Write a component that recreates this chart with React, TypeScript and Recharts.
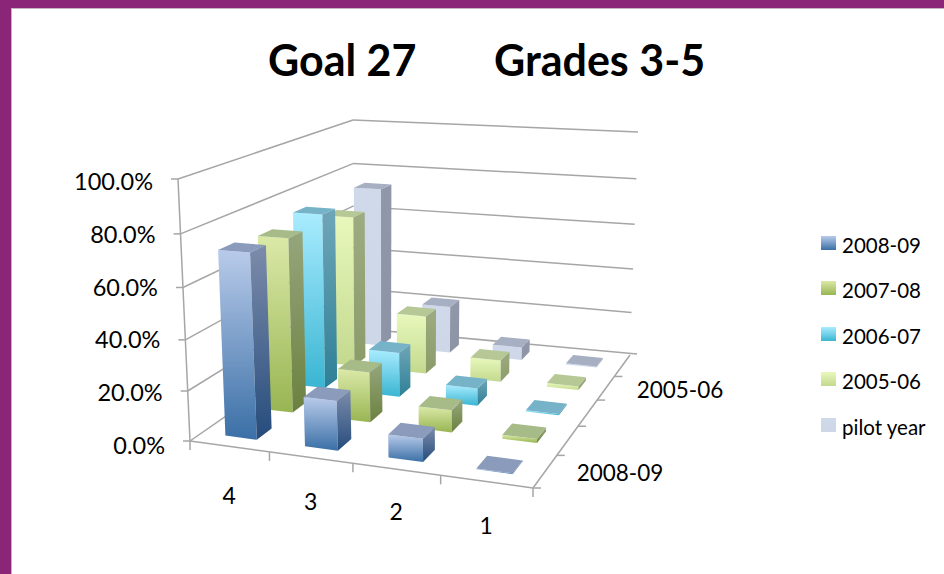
import React from "react";
import { BarChart, Bar, XAxis, YAxis, Legend } from "recharts";

const grades = ["4", "3", "2", "1"];
const seriesNames = ["2008-09", "2007-08", "2006-07", "2005-06", "pilot year"];
const depthLabels = ["2008-09", "2005-06"];
const yTicks = [0, 0.2, 0.4, 0.6, 0.8, 1];

const y200809 = [0.727, 0.195, 0.09, 0.003];
const y200708 = [0.712, 0.205, 0.09, 0.016];
const y200607 = [0.742, 0.19, 0.074, 0.005];
const y200506 = [0.667, 0.258, 0.095, 0.016];
const yPilot = [0.732, 0.216, 0.058, 0.005];
const seriesValues = [y200809, y200708, y200607, y200506, yPilot];

const data = grades.map((grade, i) => {
  const row: Record<string, string | number> = { grade };
  seriesNames.forEach((name, s) => {
    row[name] = seriesValues[s][i];
  });
  return row;
});

// front top, front bottom, side top, side bottom, lid
const palette = [
  ["#b9cbea", "#3a6fa6", "#7c8cab", "#264c7c", "#8b9bbb"],
  ["#dbe9a8", "#98b552", "#96a67c", "#6b8140", "#a6bb88"],
  ["#a9ecff", "#3ab5d2", "#6fa6b8", "#2e8096", "#76b3c9"],
  ["#e8f8bc", "#c3d98e", "#9eab82", "#8b9c68", "#b6c896"],
  ["#cfd9ea", "#cdd7e8", "#9097a8", "#8d94a5", "#a7afc3"],
];

const WIDTH = 944;
const HEIGHT = 574;
const PLOT_TOP = 182;
const PLOT_BOTTOM = 127;
const PLOT_H = HEIGHT - PLOT_TOP - PLOT_BOTTOM - 1;
const FONT = "Lato, sans-serif";
const GRID = "#a6a6a6";

type Pt = [number, number];

// unit square -> quad, corners in the order (0,0) (1,0) (1,1) (0,1)
const homography = (q: Pt[]) => {
  const [[x0, y0], [x1, y1], [x2, y2], [x3, y3]] = q;
  const dx1 = x1 - x2;
  const dx2 = x3 - x2;
  const dx3 = x0 - x1 + x2 - x3;
  const dy1 = y1 - y2;
  const dy2 = y3 - y2;
  const dy3 = y0 - y1 + y2 - y3;
  const den = dx1 * dy2 - dx2 * dy1;
  const g = (dx3 * dy2 - dx2 * dy3) / den;
  const h = (dx1 * dy3 - dx3 * dy1) / den;
  const a = x1 - x0 + g * x1;
  const b = x3 - x0 + h * x3;
  const d = y1 - y0 + g * y1;
  const e = y3 - y0 + h * y3;
  return (u: number, v: number): Pt => {
    const w = g * u + h * v + 1;
    return [(a * u + b * v + x0) / w, (d * u + e * v + y0) / w];
  };
};

const floor = homography([[190, 441], [533, 488], [630, 355], [353, 328]]);
const ceiling = homography([[178, 179], [538, 203], [638, 132], [353, 120]]);

const project = (u: number, v: number, level: number): Pt => {
  const a = floor(u, v);
  const b = ceiling(u, v);
  // the camera looks down a little, so the upper levels come out wider apart
  const t = level / (1 + 0.06 * (1 - level));
  return [a[0] + (b[0] - a[0]) * t, a[1] + (b[1] - a[1]) * t];
};

const pts = (list: Pt[]) => list.map((p) => `${p[0].toFixed(1)},${p[1].toFixed(1)}`).join(" ");

// Bar shape: takes the height the y scale gave and stands it on the floor
const makeBar = (s: number) => (props: any) => {
  const level = props.height / PLOT_H;
  const cu = (props.index + 0.5) / grades.length;
  const cv = (s + 0.5) / seriesNames.length;
  const hu = 0.2 / grades.length;
  const hv = 0.2 / seriesNames.length;
  const u0 = cu - hu;
  const u1 = cu + hu;
  const v0 = cv - hv;
  const v1 = cv + hv;
  const front = [project(u0, v0, level), project(u1, v0, level), project(u1, v0, 0), project(u0, v0, 0)];
  const side = [project(u1, v0, level), project(u1, v1, level), project(u1, v1, 0), project(u1, v0, 0)];
  const lid = [project(u0, v0, level), project(u1, v0, level), project(u1, v1, level), project(u0, v1, level)];
  return (
    <g>
      <polygon points={pts(front)} fill={`url(#front${s})`} />
      <polygon points={pts(side)} fill={`url(#side${s})`} />
      <polygon points={pts(lid)} fill={palette[s][4]} />
    </g>
  );
};

const Walls = () => {
  const line = (a: Pt, b: Pt, key: string) => (
    <line key={key} x1={a[0]} y1={a[1]} x2={b[0]} y2={b[1]} stroke={GRID} strokeWidth={1.5} />
  );
  return (
    <g>
      {yTicks.map((t) => {
        const left = project(0, 0, t);
        const corner = project(0, 1, t);
        const right = project(1, 1, t);
        return (
          <g key={t}>
            {line([left[0] - 7, left[1]], left, `a${t}`)}
            {line(left, corner, `b${t}`)}
            {line(corner, t === 0 ? [right[0] + 7, right[1] - 1] : right, `c${t}`)}
          </g>
        );
      })}
      {line(project(0, 0, 0), project(0, 0, 1), "axis")}
      {line(project(0, 0, 0), project(1, 0, 0), "front")}
      {line(project(1, 0, 0), project(1, 1, 0), "depth")}
      {[0, 1, 2, 3, 4].map((i) => {
        const p = project(i / 4, 0, 0);
        return line(p, [p[0], p[1] + 9], `ut${i}`);
      })}
      {[0, 1, 2, 3, 4].map((i) => {
        const p = project(1, i / 5, 0);
        return line(p, [p[0] + 8, p[1]], `vt${i}`);
      })}
    </g>
  );
};

const labelDy = [52, 47, 45, 47];

const GradeTick = (props: any) => {
  const i = grades.indexOf(props.payload.value);
  const p = project((i + 0.5) / grades.length, 0, 0);
  return (
    <text x={p[0]} y={p[1] + labelDy[i]} textAnchor="middle" dominantBaseline="middle" fontFamily={FONT} fontSize={23} fill="#000">
      {props.payload.value}
    </text>
  );
};

// the axis leans, so the labels follow it instead of sharing one right edge
const PercentTick = (props: any) => {
  const v = props.payload.value;
  const x = project(0, 0, v)[0] - 25;
  return (
    <text x={x} y={props.y + 2} textAnchor="end" dominantBaseline="middle" fontFamily={FONT} fontSize={23.5} fill="#000">
      {`${(v * 100).toFixed(1)}%`}
    </text>
  );
};

const LegendBox = (props: any) => {
  const items = [...(props.payload || [])].sort((a: any, b: any) => seriesNames.indexOf(a.value) - seriesNames.indexOf(b.value));
  return (
    <div style={{ fontFamily: FONT, fontSize: 20.5, color: "#000" }}>
      {items.map((item: any, s: number) => (
        <div key={item.value} style={{ display: "flex", alignItems: "center", height: 45.5 }}>
          <span
            style={{
              width: 15,
              height: 14,
              marginRight: 6,
              marginTop: -4,
              background: `linear-gradient(${palette[s][0]}, ${palette[s][1]})`,
            }}
          />
          {item.value}
        </div>
      ))}
    </div>
  );
};

export default function App() {
  return (
    <div style={{ position: "absolute", left: 0, top: 0, width: WIDTH, height: HEIGHT, background: "#8b2577", overflow: "hidden" }}>
      <div style={{ position: "absolute", left: 11, top: 8, right: 0, bottom: 0, background: "#fff", borderLeft: "1px solid #c4b2c2", borderTop: "1px solid #c4b2c2" }} />
      <div style={{ position: "absolute", left: 0, top: 0 }}>
        <BarChart
          width={WIDTH}
          height={HEIGHT}
          data={data}
          margin={{ top: PLOT_TOP, right: 304, bottom: PLOT_BOTTOM, left: 0 }}
        >
          <defs>
            {palette.map((c, s) => (
              <React.Fragment key={s}>
                <linearGradient id={`front${s}`} x1="0" y1="0" x2="0" y2="1">
                  <stop offset="0" stopColor={c[0]} />
                  <stop offset="1" stopColor={c[1]} />
                </linearGradient>
                <linearGradient id={`side${s}`} x1="0" y1="0" x2="0" y2="1">
                  <stop offset="0" stopColor={c[2]} />
                  <stop offset="1" stopColor={c[3]} />
                </linearGradient>
              </React.Fragment>
            ))}
          </defs>
          <text x={268} y={76} fontFamily={FONT} fontWeight={700} fontSize={43} fill="#000">
            Goal 27
          </text>
          <text x={494} y={76} fontFamily={FONT} fontWeight={700} fontSize={43} fill="#000">
            Grades 3-5
          </text>
          <Walls />
          <XAxis dataKey="grade" height={1} axisLine={false} tickLine={false} interval={0} tick={GradeTick} />
          <YAxis width={170} domain={[0, 1]} ticks={yTicks} axisLine={false} tickLine={false} tick={PercentTick} />
          {/* back row first so the nearer bars cover it */}
          {[4, 3, 2, 1, 0].map((s) => (
            <Bar key={s} dataKey={seriesNames[s]} fill={palette[s][0]} shape={makeBar(s)} isAnimationActive={false} />
          ))}
          <text x={680} y={392} textAnchor="middle" dominantBaseline="middle" fontFamily={FONT} fontSize={22.5} fill="#000">
            {depthLabels[1]}
          </text>
          <text x={620} y={475} textAnchor="middle" dominantBaseline="middle" fontFamily={FONT} fontSize={22.5} fill="#000">
            {depthLabels[0]}
          </text>
          <Legend
            layout="vertical"
            align="right"
            verticalAlign="top"
            content={<LegendBox />}
            wrapperStyle={{ position: "absolute", left: 821, top: 222, width: 123 }}
          />
        </BarChart>
      </div>
    </div>
  );
}
